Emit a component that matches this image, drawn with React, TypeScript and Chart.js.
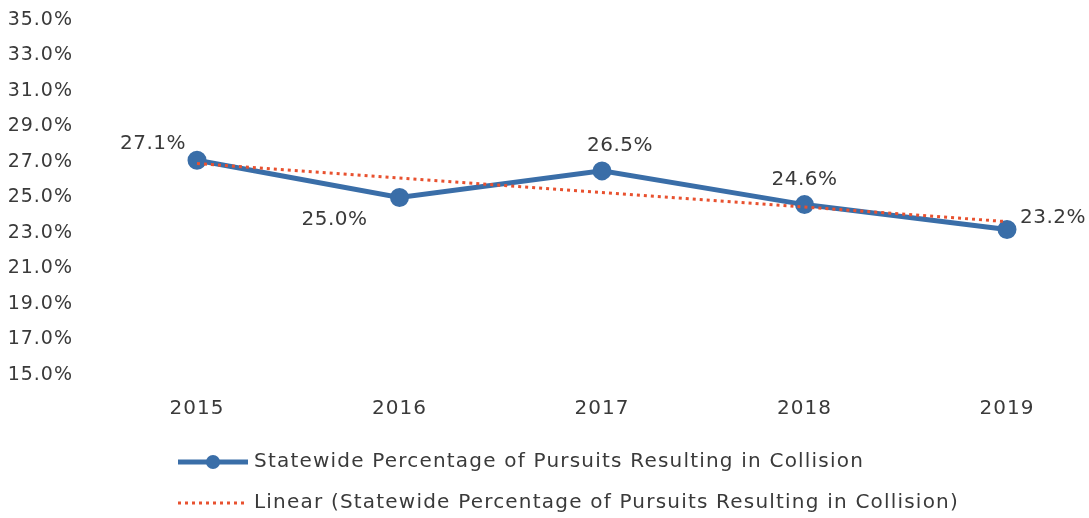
import React, { useEffect, useRef } from "react";
import { Chart, registerables } from "chart.js";

Chart.register(...registerables);

// ---- data ----
const years = ["2015", "2016", "2017", "2018", "2019"];
const collisionPct = [27.1, 25.0, 26.5, 24.6, 23.2];
const trendPct = [26.92, 26.1, 25.28, 24.46, 23.64];
const yMin = 15;
const yMax = 35;
const yStep = 2;
const seriesLabel = "Statewide Percentage of Pursuits Resulting in Collision";
const trendLabel = "Linear (Statewide Percentage of Pursuits Resulting in Collision)";

// ---- styles ----
const FONT = '"DejaVu Sans", "Noto Sans", sans-serif';
const TEXT = "#3a3a3a";
const BLUE = "#3a6ea8";
const RED = "#e8512f";
// label offsets (dx, dy, align) relative to each point
const labelOffsets: [number, number, CanvasTextAlign][] = [
  [-11, -16, "right"],
  [-32, 22, "right"],
  [18, -25, "center"],
  [0, -25, "center"],
  [13, -12, "left"],
];

const fmt = (v: number) => v.toFixed(1) + "%";

const spacingPlugin = {
  id: "letterSpacing",
  beforeDraw(chart: any) {
    chart.ctx.letterSpacing = "1px";
  },
};

const labelPlugin = {
  id: "pointLabels",
  afterDatasetsDraw(chart: any) {
    const meta = chart.getDatasetMeta(1);
    const ctx = chart.ctx;
    ctx.save();
    ctx.letterSpacing = "0.5px";
    ctx.font = `20px ${FONT}`;
    ctx.fillStyle = TEXT;
    ctx.textBaseline = "middle";
    meta.data.forEach((pt: any, i: number) => {
      const [dx, dy, align] = labelOffsets[i];
      ctx.textAlign = align;
      ctx.fillText(fmt(collisionPct[i]), pt.x + dx, pt.y + dy);
    });
    ctx.restore();
  },
};

const legendPlugin = {
  id: "customLegend",
  afterDraw(chart: any) {
    const ctx = chart.ctx;
    const x0 = 178;
    const x1 = 248;
    const tx = 254;
    const y1 = 462;
    const y2 = 503;
    ctx.save();
    // series 1
    ctx.strokeStyle = BLUE;
    ctx.lineWidth = 5;
    ctx.beginPath();
    ctx.moveTo(x0, y1);
    ctx.lineTo(x1, y1);
    ctx.stroke();
    ctx.fillStyle = BLUE;
    ctx.beginPath();
    ctx.arc((x0 + x1) / 2, y1, 7, 0, Math.PI * 2);
    ctx.fill();
    // series 2
    ctx.strokeStyle = RED;
    ctx.lineWidth = 3;
    ctx.setLineDash([3, 4]);
    ctx.beginPath();
    ctx.moveTo(x0, y2);
    ctx.lineTo(x1, y2);
    ctx.stroke();
    ctx.setLineDash([]);
    ctx.letterSpacing = "1.2px";
    ctx.font = `20px ${FONT}`;
    ctx.fillStyle = TEXT;
    ctx.textAlign = "left";
    ctx.textBaseline = "middle";
    ctx.fillText(seriesLabel, tx, y1);
    ctx.fillText(trendLabel, tx, y2);
    ctx.restore();
  },
};

export default function App() {
  const ref = useRef<HTMLCanvasElement>(null);
  useEffect(() => {
    if (!ref.current) return;
    const chart = new Chart(ref.current, {
      type: "line",
      data: {
        labels: years,
        datasets: [
          {
            label: trendLabel,
            data: trendPct,
            borderColor: RED,
            borderWidth: 3,
            borderDash: [3, 4],
            pointRadius: 0,
            fill: false,
            order: 0,
          },
          {
            label: seriesLabel,
            data: collisionPct,
            borderColor: BLUE,
            backgroundColor: BLUE,
            borderWidth: 5,
            pointRadius: 7,
            pointBackgroundColor: BLUE,
            pointBorderColor: BLUE,
            fill: false,
            order: 1,
          },
        ],
      },
      options: {
        animation: false,
        responsive: true,
        maintainAspectRatio: false,
        layout: { padding: { left: 0, right: 82, top: 20, bottom: 93 } },
        plugins: {
          legend: { display: false },
          tooltip: { enabled: false },
        },
        scales: {
          x: {
            offset: false,
            grid: { display: false, drawTicks: false },
            border: { display: false },
            ticks: { color: TEXT, font: { family: FONT, size: 20 }, padding: 22 },
            afterFit: (s: any) => {
              s.height = 50;
              s.paddingLeft = 0;
              s.paddingRight = 0;
            },
          },
          y: {
            min: yMin,
            max: yMax,
            grid: { display: false, drawTicks: false },
            border: { display: false },
            ticks: {
              stepSize: yStep,
              autoSkip: false,
              color: TEXT,
              font: { family: FONT, size: 19 },
              padding: 124,
              callback: (v: any) => fmt(Number(v)),
            },
            afterFit: (s: any) => {
              s.width = 197;
              s.paddingTop = 0;
              s.paddingBottom = 0;
            },
          },
        },
      },
      plugins: [spacingPlugin, labelPlugin, legendPlugin],
    });
    return () => chart.destroy();
  }, []);
  return (
    <div style={{ position: "fixed", left: 0, top: 0, width: 1089, height: 518, background: "#fff" }}>
      <canvas ref={ref} />
    </div>
  );
}
